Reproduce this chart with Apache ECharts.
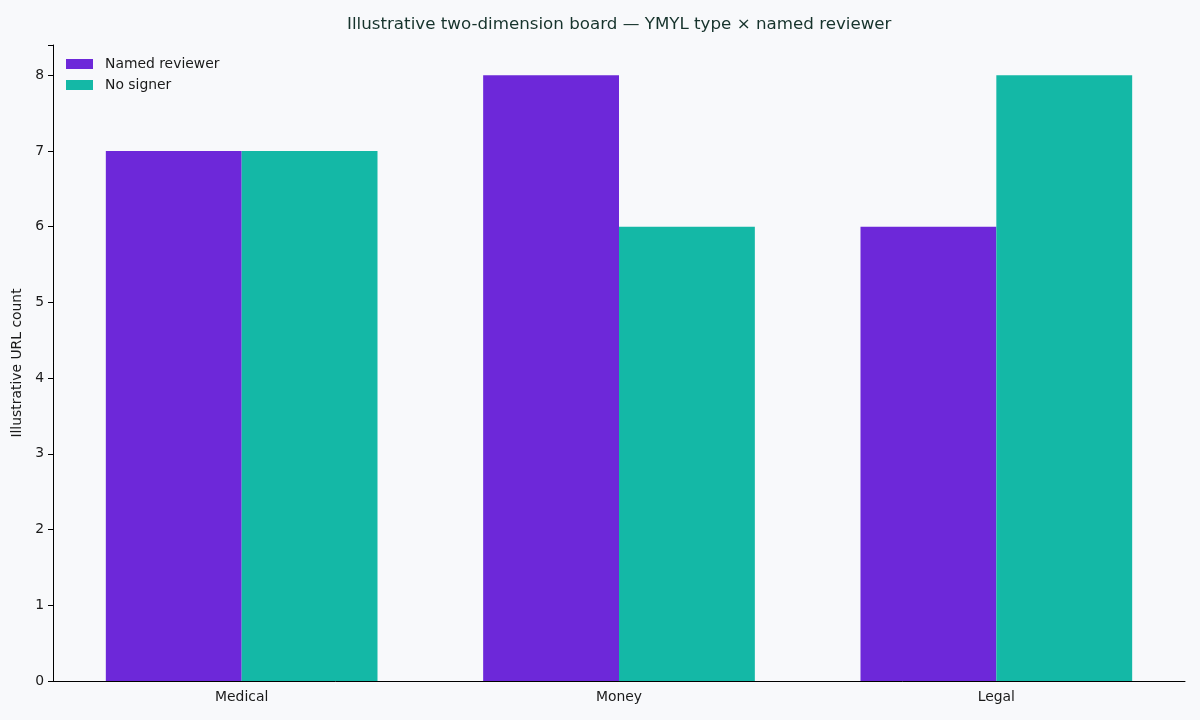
<!DOCTYPE html>
<html><head><meta charset="utf-8">
<script src="https://cdn.jsdelivr.net/npm/echarts@6/dist/echarts.min.js"></script>
<style>html,body{margin:0;padding:0;background:#f8f9fb;}#c{width:1200px;height:720px;}</style>
</head><body><div id="c"></div>
<script>
const categories = ['Medical', 'Money', 'Legal'];
const namedReviewer = [7, 8, 6];
const noSigner = [7, 6, 8];
const yTicks = [0, 1, 2, 3, 4, 5, 6, 7, 8];

const chart = echarts.init(document.getElementById('c'), null, {renderer: 'canvas'});
const font = 'DejaVu Sans';
chart.setOption({
  backgroundColor: '#f8f9fb',
  animation: false,
  textStyle: {fontFamily: font},
  title: {
    text: 'Illustrative two-dimension board — YMYL type × named reviewer',
    left: 342, top: 11,
    textStyle: {fontFamily: font, fontSize: 16.7, fontWeight: 'normal', color: '#16332c'}
  },
  legend: {
    orient: 'vertical', left: 61, top: 52, itemWidth: 27, itemHeight: 10, itemGap: 7,
    icon: 'rect',
    textStyle: {fontFamily: font, fontSize: 13.9, color: '#1a1a1a', padding: [0, 0, 0, 7]},
    data: ['Named reviewer', 'No signer']
  },
  grid: {left: 53, right: 15, top: 45, bottom: 39, containLabel: false},
  xAxis: {
    type: 'category', data: categories,
    axisLine: {lineStyle: {color: '#000', width: 1}},
    axisTick: {alignWithLabel: true, length: 5, lineStyle: {color: '#000'}},
    axisLabel: {fontFamily: font, fontSize: 13.9, color: '#1a1a1a', margin: 9}
  },
  yAxis: {
    type: 'value', min: 0, max: 8.4, interval: 1,
    name: 'Illustrative URL count', nameLocation: 'middle', nameGap: 24,
    nameTextStyle: {fontFamily: font, fontSize: 13.9, color: '#1a1a1a'},
    axisLine: {show: true, lineStyle: {color: '#000', width: 1}},
    axisTick: {show: true, length: 5, lineStyle: {color: '#000'}},
    splitLine: {show: false},
    axisLabel: {fontFamily: font, fontSize: 13.9, color: '#1a1a1a', margin: 9,
      formatter: v => yTicks.includes(v) ? String(v) : ''}
  },
  series: [
    {name: 'Named reviewer', type: 'bar', data: namedReviewer, barWidth: '36%', barGap: '0%',
     itemStyle: {color: '#6d28d9'}},
    {name: 'No signer', type: 'bar', data: noSigner, barWidth: '36%', barGap: '0%',
     itemStyle: {color: '#14b8a6'}}
  ]
});
</script></body></html>
